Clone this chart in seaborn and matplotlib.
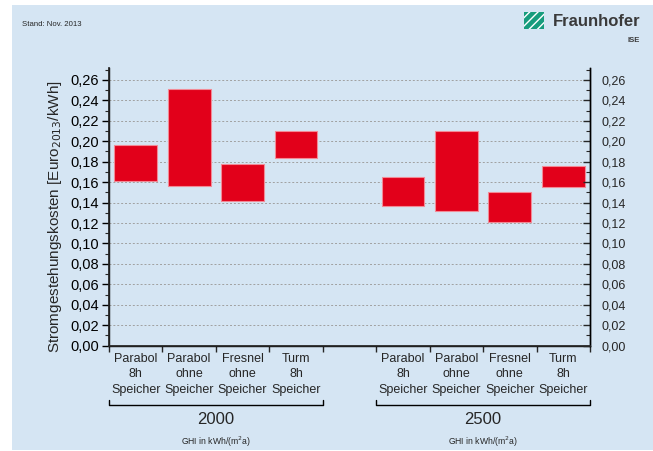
import matplotlib
matplotlib.use("Agg")
import matplotlib.pyplot as plt
import matplotlib.transforms as mtransforms
from matplotlib.patches import Rectangle
from matplotlib.ticker import FuncFormatter, MultipleLocator
import seaborn as sns
import pandas as pd

# data (LCOE ranges, Euro2013/kWh)
technologies = ["Parabol\n8h\nSpeicher", "Parabol\nohne\nSpeicher",
                "Fresnel\nohne\nSpeicher", "Turm\n8h\nSpeicher"]
ghi_groups = ["2000", "2500"]
lcoe_low_2000 = [0.161, 0.156, 0.142, 0.184]
lcoe_high_2000 = [0.196, 0.251, 0.178, 0.210]
lcoe_low_2500 = [0.137, 0.132, 0.121, 0.155]
lcoe_high_2500 = [0.165, 0.210, 0.150, 0.176]
positions_2000 = [0.5, 1.5, 2.5, 3.5]
positions_2500 = [5.5, 6.5, 7.5, 8.5]

df = pd.DataFrame({
    "pos": positions_2000 + positions_2500,
    "label": technologies * 2,
    "low": lcoe_low_2000 + lcoe_low_2500,
    "high": lcoe_high_2000 + lcoe_high_2500,
})
df["span"] = df["high"] - df["low"]

sns.set_theme(style="ticks")
plt.rcParams["font.family"] = ["Liberation Sans", "DejaVu Sans"]

bg = "#d5e5f3"
fig = plt.figure(figsize=(6.53, 4.51), dpi=100)
fig.patch.set_facecolor("white")
fig.patches.append(Rectangle((12 / 653, 1 / 451), 641 / 653, 445 / 451,
                             transform=fig.transFigure, facecolor=bg,
                             edgecolor="none", zorder=-10))

ax = fig.add_axes([109 / 653, 1 - 345.7 / 451, 481 / 653, 277.7 / 451])
ax.set_facecolor("none")

sns.barplot(data=df, x="pos", y="span", bottom=df["low"], native_scale=True,
            width=0.8, color="#e2001a", saturation=1, edgecolor="#f28a96",
            linewidth=0.8, ax=ax, zorder=3)

ax.set_xlim(0, 9)
ax.set_ylim(0, 0.2716)
ax.set_xlabel("")
ax.set_ylabel("Stromgestehungskosten [Euro$_{2013}$/kWh]", fontsize=11)
ax.yaxis.set_label_coords(-0.094, 0.465)

fmt = FuncFormatter(lambda v, p: f"{v:.2f}".replace(".", ","))
ax.yaxis.set_major_locator(MultipleLocator(0.02))
ax.yaxis.set_minor_locator(MultipleLocator(0.01))
ax.yaxis.set_major_formatter(fmt)
ax.tick_params(axis="y", which="major", direction="out", length=5, width=1,
               labelsize=10.5, colors="black", pad=2)
ax.tick_params(axis="y", which="minor", direction="out", length=3, width=0.8)

ax.set_xticks(range(0, 10))
ax.set_xticklabels([])
ax.set_xticks(df["pos"], df["label"], minor=True)
ax.tick_params(axis="x", which="major", direction="out", length=4, width=1)
ax.tick_params(axis="x", which="minor", length=0, labelsize=9, pad=5)
for t in ax.get_xticklabels(minor=True):
    t.set_linespacing(1.4)

ax.grid(axis="y", which="major", color="#a0a0a0", linestyle=(0, (2, 2)),
        linewidth=0.7, zorder=0)
for s in ["left", "bottom", "right"]:
    ax.spines[s].set_color("black")
    ax.spines[s].set_linewidth(1)
ax.spines["top"].set_visible(False)

ax2 = ax.twinx()
ax2.set_ylim(ax.get_ylim())
ax2.yaxis.set_major_locator(MultipleLocator(0.02))
ax2.yaxis.set_minor_locator(MultipleLocator(0.01))
ax2.yaxis.set_major_formatter(fmt)
ax2.tick_params(axis="y", which="major", direction="in", length=5, width=1,
                labelsize=9, pad=8)
ax2.tick_params(axis="y", which="minor", direction="in", length=3, width=0.8)
ax2.spines["top"].set_visible(False)
ax2.spines["right"].set_linewidth(1)
ax2.spines["right"].set_color("black")

# group brackets below the category labels
trans = mtransforms.blended_transform_factory(ax.transData, fig.transFigure)
groups = [(0, 4, ghi_groups[0]), (5, 9, ghi_groups[1])]
for x0, x1, name in groups:
    ax.plot([x0, x0, x1, x1], [0.113, 0.101, 0.101, 0.113], color="black",
            lw=1, transform=trans, clip_on=False)
    ax.text((x0 + x1) / 2, 0.069, name, transform=trans, ha="center",
            va="center", fontsize=12)
    ax.text((x0 + x1) / 2, 0.021, "GHI in kWh/(m$^2$a)", transform=trans,
            ha="center", va="center", fontsize=6.2)

fig.text(22 / 653, 1 - 25 / 451, "Stand: Nov. 2013", fontsize=5.6,
         ha="left", va="center")
fig.text(640 / 653, 1 - 22 / 451, "Fraunhofer", fontsize=12, fontweight="bold",
         color="#3a3a3a", ha="right", va="center")
fig.text(640 / 653, 1 - 40 / 451, "ISE", fontsize=5.5, fontweight="bold",
         color="#3a3a3a", ha="right", va="center")
fig.patches.append(Rectangle((524 / 653, 1 - 29 / 451), 20 / 653, 17 / 451,
                             transform=fig.transFigure, facecolor="#179c7d",
                             edgecolor="white", hatch="////", linewidth=0))

fig.savefig("out.png", dpi=100, facecolor=fig.get_facecolor())
